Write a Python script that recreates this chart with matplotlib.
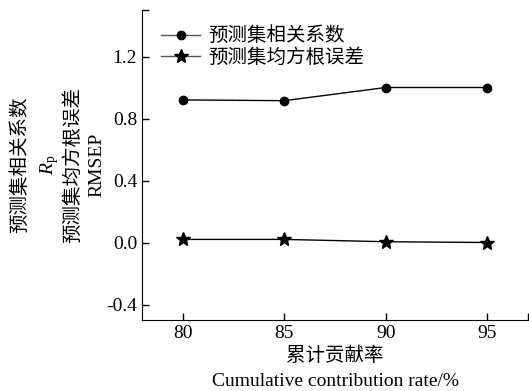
import numpy as np
import matplotlib
matplotlib.use('Agg')
import matplotlib.pyplot as plt

plt.rcParams['font.family'] = ['Liberation Serif', 'Noto Sans CJK SC']
plt.rcParams['mathtext.fontset'] = 'custom'
plt.rcParams['mathtext.it'] = 'Liberation Serif:italic'
plt.rcParams['mathtext.rm'] = 'Liberation Serif'

# data
rate = [80, 85, 90, 95]
rp = [0.92, 0.915, 1.0, 1.0]
rmsep = [0.02, 0.02, 0.005, 0.0]
yticks = [-0.4, 0.0, 0.4, 0.8, 1.2]

fig = plt.figure(figsize=(5.29, 3.91), dpi=100)
ax = fig.add_axes([142/529, 1 - 320/391, (528-142)/529, (320-10)/391])

ax.plot(rate, rp, '-o', color='black', lw=1, ms=6, label='预测集相关系数')
ax.plot(rate, rmsep, '-*', color='black', lw=1, ms=10, label='预测集均方根误差')

ax.set_xlim(78, 97)
ax.set_ylim(-0.5, 1.5)
ax.set_xticks(rate)
ax.set_yticks(yticks)
ax.set_yticklabels(['-0.4', '0.0', '0.4', '0.8', '1.2'])
ax.set_xticks([97], minor=True)
ax.set_yticks([1.5], minor=True)
ax.tick_params(direction='in', labelsize=14, length=5, width=1)
ax.tick_params(which='minor', direction='in', length=5, width=1)
for s in ['top', 'right']:
    ax.spines[s].set_visible(False)

leg = ax.legend(loc='upper left', frameon=False,
                prop={'size': 14, 'weight': 'light'},
                bbox_to_anchor=(0.015, 0.99), handlelength=2.0,
                handletextpad=0.4, labelspacing=0.15, borderaxespad=0.3)
for h in leg.get_lines():
    h.set_color('#555555')
    h.set_markerfacecolor('black')
    h.set_markeredgecolor('black')

# multi-line y label
ylab = ['预测集相关系数', '$R_\\mathrm{p}$', '预测集均方根误差', 'RMSEP']
xs = [20, 50, 73, 97]
for t, x in zip(ylab, xs):
    fig.text(x/529, 1 - 165/391, t, rotation=90, ha='center', va='center',
             fontsize=14, fontweight='light')

fig.text(335/529, 1 - 356/391, '累计贡献率', ha='center', va='center',
         fontsize=14, fontweight='light')
fig.text(335/529, 1 - 382/391, 'Cumulative contribution rate/%', ha='center',
         va='center', fontsize=14)

fig.savefig('out.png', dpi=100)
